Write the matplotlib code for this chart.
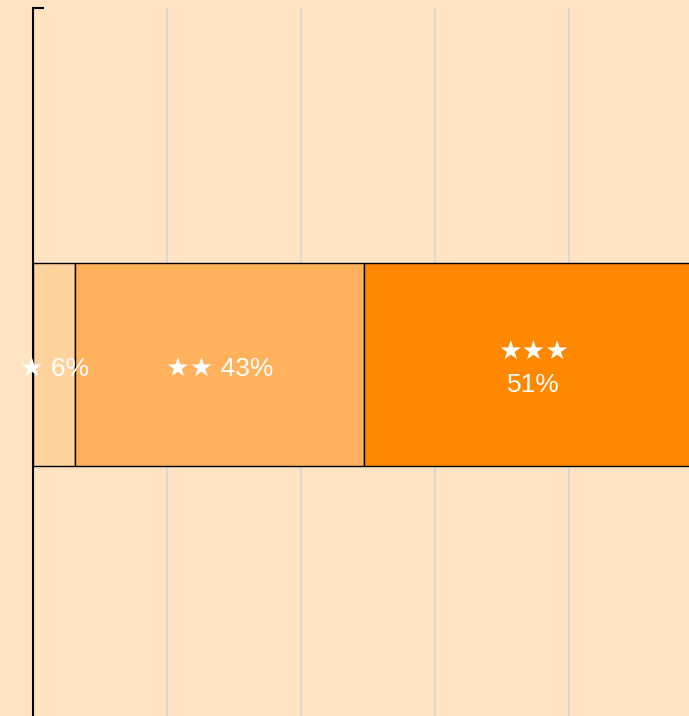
import matplotlib.pyplot as plt

# Datos
etiquetas = ["★ 6%", "★★ 43%", "★★★\n51%"]
valores = [6.3, 43.1, 50.6]
colores = ["#FFD39E", "#FFB25B", "#FF8800"]

fondo = "#FFE4C4"

fig = plt.figure(figsize=(6.89, 7.16), dpi=100, facecolor=fondo)
ax = fig.add_axes([33 / 689, 0, 656 / 689, 708 / 716])
ax.set_facecolor(fondo)

izquierda = 0
for val, col, lab in zip(valores, colores, etiquetas):
    ax.barh(0, val, left=izquierda, height=1.0, color=col, edgecolor="black", linewidth=1)
    ax.text(izquierda + val / 2, -0.02, lab, ha="center", va="center", color="white",
            fontsize=19, family=["Liberation Sans", "DejaVu Sans"], linespacing=1.5)
    izquierda += val

ax.set_xlim(0, 97.9)
ax.set_ylim(-1.738, 1.762)
ax.set_xticks([20, 40, 60, 80])
ax.set_yticks([1.762])
ax.tick_params(axis="x", length=0, labelbottom=False)
ax.tick_params(axis="y", direction="in", length=8, width=1.5, labelleft=False)
ax.grid(axis="x", color="#D9D9D9", linewidth=1.5)
ax.set_axisbelow(True)

for lado in ["top", "right", "bottom"]:
    ax.spines[lado].set_visible(False)
ax.spines["left"].set_linewidth(1.5)

plt.savefig("out.png", dpi=100, facecolor=fondo)
